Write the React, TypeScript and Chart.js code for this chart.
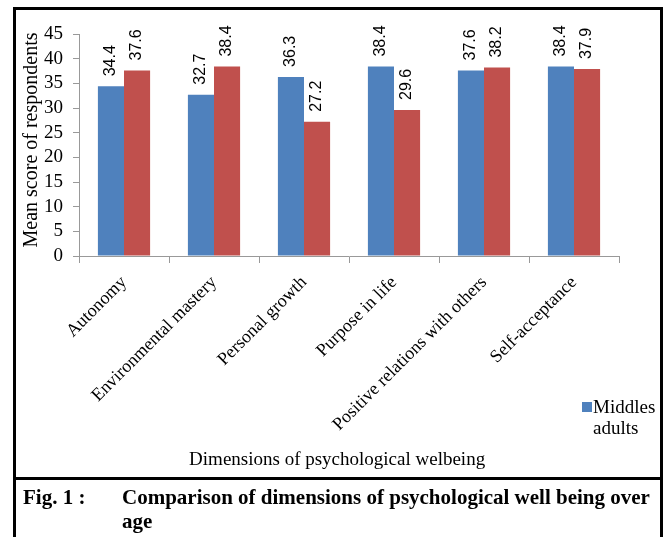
import React, { useEffect, useRef } from "react";
import { Chart, registerables } from "chart.js";

Chart.register(...registerables);

const categories = [
  "Autonomy",
  "Environmental mastery",
  "Personal growth",
  "Purpose in life",
  "Positive relations with others",
  "Self-acceptance",
];
const middleAdults = [34.4, 32.7, 36.3, 38.4, 37.6, 38.4];
const oldAdults = [37.6, 38.4, 27.2, 29.6, 38.2, 37.9];
const yTicks = [0, 5, 10, 15, 20, 25, 30, 35, 40, 45];

const BLUE = "#4F81BD";
const RED = "#C0504D";
const SERIF = "'Liberation Serif', 'Times New Roman', serif";
const SANS = "'Liberation Sans', Arial, sans-serif";

const valueLabels = {
  id: "valueLabels",
  afterDatasetsDraw(chart: any) {
    const ctx = chart.ctx;
    ctx.save();
    ctx.font = `16px ${SANS}`;
    ctx.fillStyle = "#000";
    ctx.textAlign = "left";
    ctx.textBaseline = "middle";
    chart.data.datasets.forEach((ds: any, di: number) => {
      const meta = chart.getDatasetMeta(di);
      meta.data.forEach((bar: any, i: number) => {
        ctx.save();
        ctx.translate(bar.x, bar.y - 10);
        ctx.rotate(-Math.PI / 2);
        ctx.fillText(Number(ds.data[i]).toFixed(1), 0, 0);
        ctx.restore();
      });
    });
    ctx.restore();
  },
};

export default function App() {
  const ref = useRef<HTMLCanvasElement>(null);

  useEffect(() => {
    if (!ref.current) return;
    const chart = new Chart(ref.current, {
      type: "bar",
      data: {
        labels: categories,
        datasets: [
          {
            label: "Middles adults",
            data: middleAdults,
            backgroundColor: BLUE,
            categoryPercentage: 0.58,
            barPercentage: 1,
          },
          {
            label: "Old adults",
            data: oldAdults,
            backgroundColor: RED,
            categoryPercentage: 0.58,
            barPercentage: 1,
          },
        ],
      },
      options: {
        responsive: false,
        animation: false,
        devicePixelRatio: 1,
        layout: { padding: { top: 34, right: 45, left: 0, bottom: 0 } },
        plugins: {
          legend: { display: false },
          tooltip: { enabled: false },
        },
        scales: {
          x: {
            afterFit: (s: any) => {
              s.height = 222;
            },
            grid: {
              offset: true,
              drawOnChartArea: false,
              drawTicks: true,
              tickLength: 7,
              color: "#999",
            },
            border: { display: true, color: "#999" },
            ticks: {
              minRotation: 45,
              maxRotation: 45,
              autoSkip: false,
              padding: 9,
              color: "#000",
              font: { family: SERIF, size: 18 },
            },
            title: {
              display: true,
              text: "Dimensions of psychological welbeing\u00A0\u00A0\u00A0\u00A0\u00A0",
              color: "#000",
              font: { family: SERIF, size: 19 },
              padding: { top: 0, bottom: 7 },
            },
          },
          y: {
            min: 0,
            max: 45,
            afterFit: (s: any) => {
              s.width = 79;
            },
            afterBuildTicks: (s: any) => {
              s.ticks = yTicks.map((v) => ({ value: v }));
            },
            grid: {
              drawOnChartArea: false,
              drawTicks: true,
              tickLength: 6,
              color: "#999",
            },
            border: { display: true, color: "#999" },
            ticks: {
              autoSkip: false,
              padding: 10,
              color: "#000",
              font: { family: SERIF, size: 19 },
            },
            title: {
              display: true,
              text: "\u00A0\u00A0Mean score of respondents",
              color: "#000",
              font: { family: SERIF, size: 20 },
              padding: { top: 20, bottom: 0 },
            },
          },
        },
      },
      plugins: [valueLabels],
    } as any);
    return () => chart.destroy();
  }, []);

  const fixed = (s: React.CSSProperties): React.CSSProperties => ({
    position: "fixed",
    ...s,
  });

  return (
    <div>
      <div
        style={fixed({ left: 0, top: 0, width: 664, height: 537, background: "#fff" })}
      />
      <canvas
        ref={ref}
        width={664}
        height={478}
        style={fixed({ left: 0, top: 0, width: 664, height: 478 })}
      />
      {/* outer border */}
      <div
        style={fixed({
          left: 13,
          top: 7,
          width: 644,
          height: 540,
          border: "3px solid #000",
          boxSizing: "content-box",
          pointerEvents: "none",
        })}
      />
      {/* separator */}
      <div style={fixed({ left: 13, top: 477, width: 650, height: 3, background: "#000" })} />
      {/* legend */}
      <div style={fixed({ left: 582, top: 402, width: 10, height: 10, background: BLUE })} />
      <div
        style={fixed({
          left: 593,
          top: 396,
          fontFamily: SERIF,
          fontSize: 19,
          lineHeight: "21px",
          color: "#000",
        })}
      >
        Middles
        <br />
        adults
      </div>
      {/* caption */}
      <div
        style={fixed({
          left: 23,
          top: 485,
          fontFamily: SERIF,
          fontSize: 21,
          fontWeight: "bold",
          lineHeight: "24px",
          color: "#000",
        })}
      >
        Fig. 1 :
      </div>
      <div
        style={fixed({
          left: 122,
          top: 485,
          fontFamily: SERIF,
          fontSize: 21,
          fontWeight: "bold",
          lineHeight: "24px",
          color: "#000",
          whiteSpace: "nowrap",
        })}
      >
        Comparison of dimensions of psychological well being over
        <br />
        age
      </div>
    </div>
  );
}
